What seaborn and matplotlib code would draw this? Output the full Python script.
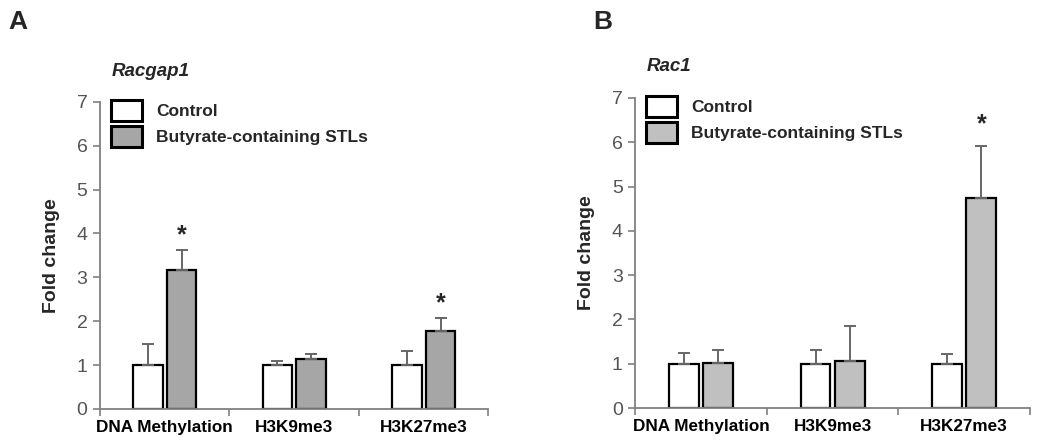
import numpy as np
import pandas as pd
import seaborn as sns
import matplotlib.pyplot as plt
from matplotlib.patches import Patch
from matplotlib.ticker import FixedLocator

sns.set_style('white')
plt.rcParams['font.family'] = ['Liberation Sans', 'DejaVu Sans']

# ---- data ----
marks = ['DNA Methylation', 'H3K9me3', 'H3K27me3']
groups = ['Control', 'Butyrate-containing STLs']

racgap1_ctrl = [1.0, 1.0, 1.0]
racgap1_ctrl_err = [0.47, 0.10, 0.32]
racgap1_but = [3.17, 1.14, 1.78]
racgap1_but_err = [0.46, 0.11, 0.30]
racgap1_sig = [True, False, True]

rac1_ctrl = [1.0, 1.0, 1.0]
rac1_ctrl_err = [0.24, 0.30, 0.22]
rac1_but = [1.02, 1.06, 4.73]
rac1_but_err = [0.30, 0.79, 1.19]
rac1_sig = [False, False, True]

grey = '#808080'


def panel(ax, ctrl, ctrl_err, but, but_err, sig, fill, gene, star_pad):
    df = pd.DataFrame({'mark': marks * 2,
                       'group': [groups[0]] * 3 + [groups[1]] * 3,
                       'value': ctrl + but})
    pal = {groups[0]: 'white', groups[1]: fill}
    sns.barplot(data=df, x='mark', y='value', hue='group', order=marks,
                hue_order=groups, palette=pal, width=0.52, gap=0.13,
                edgecolor='black', linewidth=1.6, errorbar=None,
                legend=False, ax=ax)
    # upper error bars only
    for cont, err in zip(ax.containers, [ctrl_err, but_err]):
        xs = [b.get_x() + b.get_width() / 2 for b in cont]
        hs = [b.get_height() for b in cont]
        ax.errorbar(xs, hs, yerr=[np.zeros(3), err], fmt='none',
                    ecolor='#666666', elinewidth=1.4, capsize=4, capthick=1.4)
    # significance stars
    bars = list(ax.containers[1])
    for b, h, e, s in zip(bars, but, but_err, sig):
        if s:
            ax.text(b.get_x() + b.get_width() / 2, h + e + star_pad, '*',
                    ha='center', va='bottom', fontsize=18, fontweight='bold')

    ax.set_xlim(-0.5, 2.5)
    ax.set_ylim(0, 7)
    ax.set_yticks(range(8))
    ax.xaxis.set_minor_locator(FixedLocator([-0.5, 0.5, 1.5, 2.5]))
    ax.tick_params(axis='x', which='major', length=0, pad=8,
                   labelsize=12.3, labelcolor='black')
    ax.tick_params(axis='x', which='minor', length=5, width=1.2,
                   color=grey, direction='out', bottom=True)
    ax.tick_params(axis='y', length=5, width=1.2, color=grey,
                   direction='out', left=True, labelsize=14,
                   labelcolor='#555555', pad=4)
    for t in ax.get_xticklabels():
        t.set_fontweight('bold')
    for sp in ['top', 'right']:
        ax.spines[sp].set_visible(False)
    for sp in ['left', 'bottom']:
        ax.spines[sp].set_color(grey)
        ax.spines[sp].set_linewidth(1.3)
    ax.set_xlabel('')
    ax.set_ylabel('Fold change', fontsize=14, fontweight='bold', labelpad=12)
    ax.text(0.03, 1.10, gene, transform=ax.transAxes, fontsize=13.5,
            fontweight='bold', fontstyle='italic', va='center')

    handles = [Patch(facecolor=pal[g], edgecolor='black', linewidth=2.2)
               for g in groups]
    leg = ax.legend(handles, groups, loc='upper left',
                    bbox_to_anchor=(0.01, 1.03), frameon=False,
                    handlelength=1.8, handleheight=1.5, handletextpad=0.8,
                    labelspacing=0.3, borderaxespad=0, fontsize=12.5)
    for t in leg.get_texts():
        t.set_fontweight('bold')


fig = plt.figure(figsize=(10.5, 4.45), dpi=100)
axA = fig.add_axes([0.0952, 0.081, 0.370, 0.690])
axB = fig.add_axes([0.605, 0.083, 0.376, 0.697])

panel(axA, racgap1_ctrl, racgap1_ctrl_err, racgap1_but, racgap1_but_err,
      racgap1_sig, '#a6a6a6', 'Racgap1', 0.06)
panel(axB, rac1_ctrl, rac1_ctrl_err, rac1_but, rac1_but_err,
      rac1_sig, '#c0c0c0', 'Rac1', 0.22)

fig.text(0.008, 0.935, 'A', fontsize=19, fontweight='bold')
fig.text(0.565, 0.935, 'B', fontsize=19, fontweight='bold')

fig.savefig('out.png', dpi=100)
